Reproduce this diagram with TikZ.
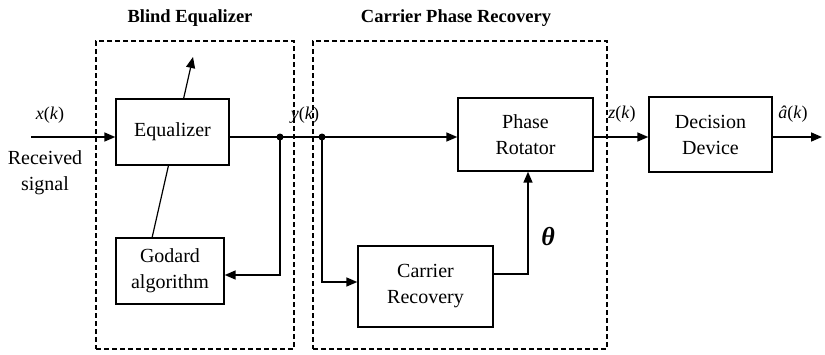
\documentclass[tikz,border=0pt]{standalone}
\usepackage{fontspec}
\setmainfont{Liberation Serif}
\usetikzlibrary{arrows.meta}
\begin{document}
\begin{tikzpicture}[x=1pt,y=-1pt,
  box/.style={draw,line width=1.4pt,align=center,inner sep=0pt,font=\fontsize{20}{26}\selectfont},
  conn/.style={line width=1.6pt},
  arr/.style={conn,-{Triangle[length=11pt,width=9pt]}},
  grp/.style={draw,line width=1.1pt,dash pattern=on 5pt off 3pt,inner sep=0pt},
  lbl/.style={font=\fontsize{18}{20}\selectfont,inner sep=0pt},
  ttl/.style={font=\fontsize{18.5}{20}\selectfont\bfseries,inner sep=0pt},
  dot/.style={circle,fill,inner sep=0pt,minimum size=7pt}]
\useasboundingbox (0,0) rectangle (825,354);
% groups
\node[grp,minimum width=198pt,minimum height=308pt] (be) at (195,195) {};
\node[grp,minimum width=294pt,minimum height=308pt] (cp) at (460,195) {};
\node[ttl] (t1) at (190,18) {Blind Equalizer};
\node[ttl] (t2) at (456,18) {Carrier Phase Recovery};
% blocks
\node[box,minimum width=113pt,minimum height=66pt] (eq) at (172.5,132) {Equalizer};
\node[box,minimum width=108pt,minimum height=66pt] (god) at (170,271) {Godard\\algorithm};
\node[box,minimum width=135pt,minimum height=73pt] (pr) at (525.5,134.5) {Phase\\Rotator};
\node[box,minimum width=135pt,minimum height=81pt] (cr) at (425.5,286.5) {Carrier\\Recovery};
\node[box,minimum width=123pt,minimum height=75pt] (dd) at (710.5,134.5) {Decision\\Device};
% coordinates
\coordinate (in) at (31,137);
\node[dot] (j1) at (280,137) {};
\node[dot] (j2) at (322,137) {};
\coordinate (gfb) at (280,275);
\coordinate (cfb) at (322,282);
\coordinate (c0) at (493,274);
\coordinate (c1) at (528,274);
\coordinate (out) at (822,137);
\coordinate (a1) at (152,238);
\coordinate (a2) at (168.6,165);
\coordinate (a3) at (183.5,99);
\coordinate (a4) at (193,57);
% labels
\node[lbl] (lx) at (50,115) {\textit{x}(\textit{k})};
\node[font=\fontsize{20}{26}\selectfont,align=center,inner sep=0pt] (rs) at (45,173) {Received\\signal};
\node[lbl] (ly) at (305,115) {\textit{y}(\textit{k})};
\node[lbl] (lz) at (622,114) {\textit{z}(\textit{k})};
\node[lbl] (la) at (793,114) {\textit{â}(\textit{k})};
\node[font=\fontsize{26}{28}\selectfont\bfseries\itshape,inner sep=0pt] (th) at (548,237) {θ};
% connectors
\draw[arr] (in) -- (in -| eq.west);
\draw[conn] (eq.east |- j1) -- (j1.center) -- (j2.center);
\draw[arr] (j1.center) -- (gfb) -- (gfb -| god.east);
\draw[line width=1.2pt] (a1) -- (a2);
\draw[line width=1.2pt,-{Triangle[length=11pt,width=9pt]}] (a3) -- (a4);
\draw[arr] (j2.center) -- (j2 -| pr.west);
\draw[arr] (j2.center) -- (cfb) -- (cfb -| cr.west);
\draw[arr] (c0) -- (c1) -- (c1 |- pr.south);
\draw[arr] (pr.east |- j2) -- (dd.west |- j2);
\draw[arr] (dd.east |- j2) -- (out);
\end{tikzpicture}
\end{document}
